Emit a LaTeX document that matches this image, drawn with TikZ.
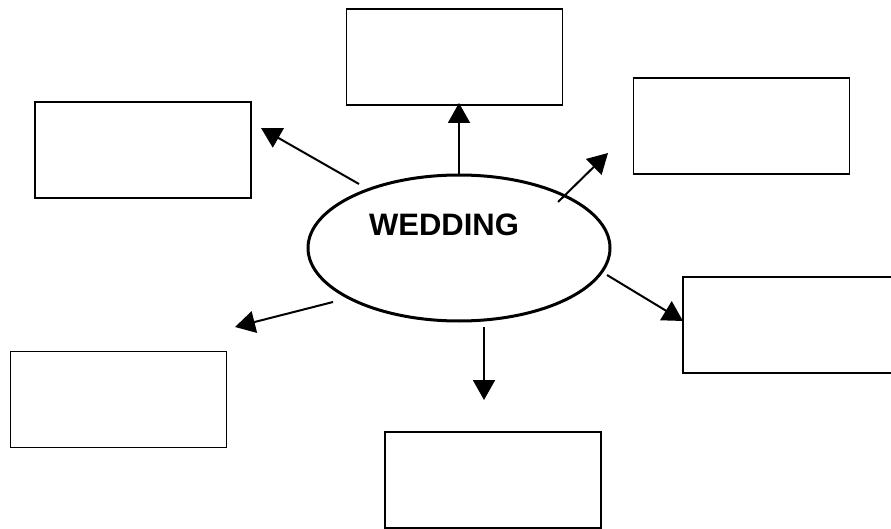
\documentclass[tikz,border=0pt]{standalone}
\usepackage{fontspec}
\setmainfont{Liberation Sans}
\usetikzlibrary{shapes.geometric,arrows.meta}
\begin{document}
\begin{tikzpicture}[x=1pt,y=-1pt,>={Triangle[length=20pt,width=22pt]}]

% size of each box
\def\bw{216pt}
\def\bh{96pt}
% node style definition
\tikzstyle{box} = [
	draw, line width=1.5pt, rectangle,
	minimum width=\bw, minimum height=\bh ];
\tikzstyle{hub} = [draw, line width=3pt, ellipse,
	minimum width=302pt, minimum height=146pt, inner sep=0pt];
\tikzstyle{link} = [->, line width=2pt];

\useasboundingbox (0,0) rectangle (891,529);
\clip (0,0) rectangle (891,529);

\node[hub] (wed) at (459,248) {};
\node[font=\bfseries\fontsize{31}{36}\selectfont] (wedtxt) at (444,225) {WEDDING};

\node[box] (b1) at (454.5,57) {};
\node[box] (b2) at (741.5,126) {};
\node[box] (b3) at (143,150) {};
\node[box] (b4) at (791,325) {};
\node[box] (b5) at (118.5,399.5) {};
\node[box] (b6) at (493,480) {};

% arrow ends
\coordinate (s1) at (459,176);
\coordinate (t1) at (459,103);
\coordinate (s2) at (558,202);
\coordinate (t2) at (608,153);
\coordinate (s3) at (359,184);
\coordinate (t3) at (261,128);
\coordinate (s4) at (607,275);
\coordinate (t4) at (683,321);
\coordinate (s5) at (333,302);
\coordinate (t5) at (235,327);
\coordinate (s6) at (484,327);
\coordinate (t6) at (484,400);

\draw[link] (s1) -- (t1);
\draw[link] (s2) -- (t2);
\draw[link] (s3) -- (t3);
\draw[link] (s4) -- (t4);
\draw[link] (s5) -- (t5);
\draw[link] (s6) -- (t6);

\end{tikzpicture}
\end{document}
